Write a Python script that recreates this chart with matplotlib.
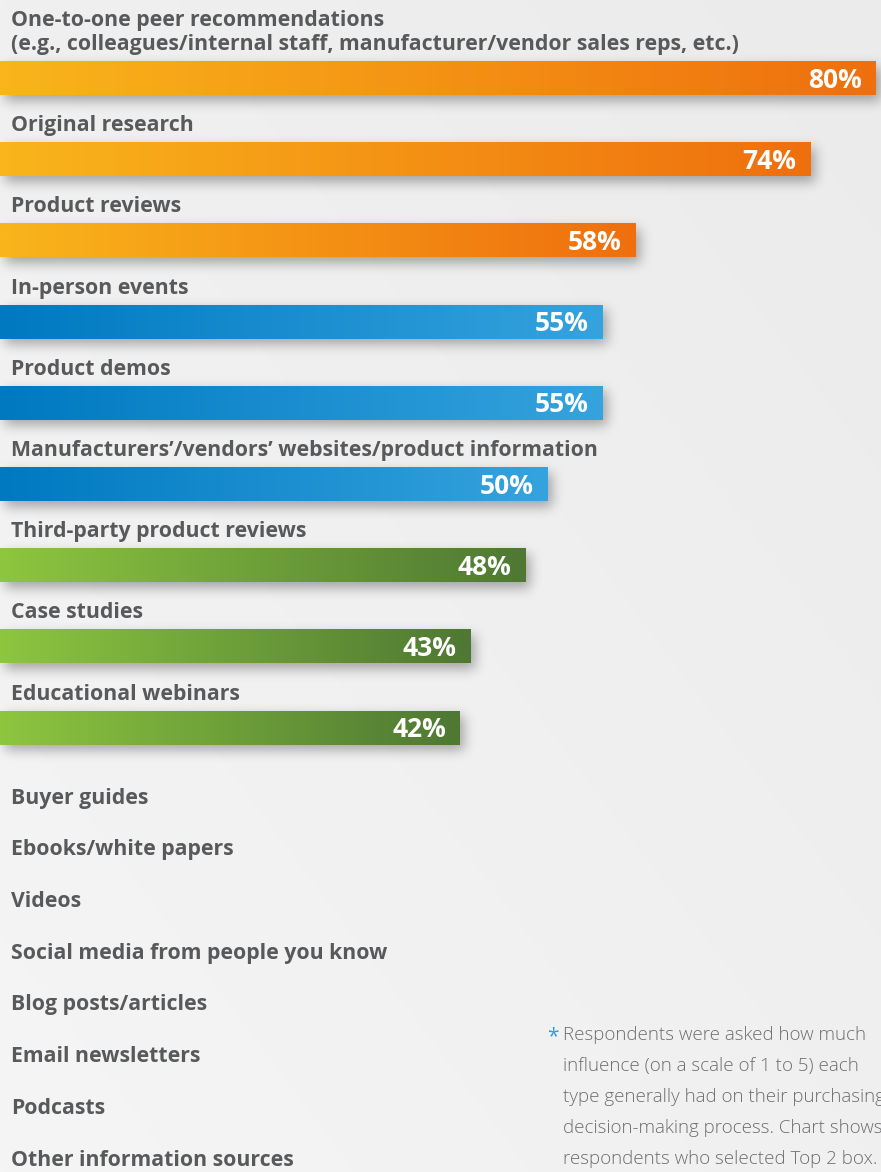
import numpy as np
import matplotlib
matplotlib.use("Agg")
import matplotlib.pyplot as plt
from matplotlib.colors import to_rgb

# ---------------- data ----------------
bar_labels = [
    "One-to-one peer recommendations\n(e.g., colleagues/internal staff, manufacturer/vendor sales reps, etc.)",
    "Original research",
    "Product reviews",
    "In-person events",
    "Product demos",
    "Manufacturers\u2019/vendors\u2019 websites/product information",
    "Third-party product reviews",
    "Case studies",
    "Educational webinars",
]
bar_values = [80, 74, 58, 55, 55, 50, 48, 43, 42]
bar_groups = ["orange", "orange", "orange", "blue", "blue", "blue", "green", "green", "green"]
other_labels = [
    "Buyer guides",
    "Ebooks/white papers",
    "Videos",
    "Social media from people you know",
    "Blog posts/articles",
    "Email newsletters",
    "Podcasts",
    "Other information sources",
]
footnote_lines = [
    "Respondents were asked how much",
    "influence (on a scale of 1 to 5) each",
    "type generally had on their purchasing",
    "decision-making process. Chart shows",
    "respondents who selected Top 2 box.",
]

# ---------------- style ----------------
gradients = {
    "orange": ("#F9B51B", "#EF6F0E"),
    "blue": ("#0079C1", "#35A3DE"),
    "green": ("#8DC63F", "#4E7833"),
}
label_color = "#58595B"
note_color = "#6D6E70"
star_color = "#2E9FDB"

W, H = 881, 1172
PX = 10.95          # pixels per percentage point
ROW = 81.2          # pixels per bar row
Y0 = 78.0           # pixel center of first bar row
BAR_H_PX = 34.0

fam = "Open Sans"
LABEL_FS = 15.35

fig = plt.figure(figsize=(W / 100, H / 100), dpi=100)
ax = fig.add_axes([0, 0, 1, 1])
xmax = W / PX
ytop = -Y0 / ROW
ybot = (H - Y0) / ROW
ax.set_xlim(0, xmax)
ax.set_ylim(ybot, ytop)
ax.axis("off")

# background gradient (diagonal, light gray)
gy, gx = np.mgrid[0:1:200j, 0:1:200j]
t = 0.5 * (gx + (1 - gy))
c0 = np.array(to_rgb("#F5F5F5"))
c1 = np.array(to_rgb("#EBEBEB"))
bg = c0[None, None, :] * (1 - t[..., None]) + c1[None, None, :] * t[..., None]
ax.imshow(bg, extent=(0, xmax, ybot, ytop), aspect="auto", zorder=0, interpolation="bilinear")

# bars (drawn by barh, then filled with gradient)
ypos = np.arange(len(bar_values))
bh = BAR_H_PX / ROW
bars = ax.barh(ypos, bar_values, height=bh, color="none", edgecolor="none", zorder=3)
ax.set_xlim(0, xmax)
ax.set_ylim(ybot, ytop)

# shadow layer computed in pixel space from bar extents
fig.canvas.draw()
mask = np.zeros((H, W))
off_x, off_y = 5, 6
for b in bars:
    (x0, y0), (x1, y1) = ax.transData.transform([(b.get_x(), b.get_y()),
                                                  (b.get_x() + b.get_width(), b.get_y() + b.get_height())])
    r0, r1 = sorted([H - y0, H - y1])
    c_0, c_1 = sorted([x0, x1])
    mask[int(r0) + off_y:int(r1) + off_y, int(c_0) + off_x:int(c_1) + off_x] = 1.0

sigma = 6.0
k = np.arange(-int(3 * sigma), int(3 * sigma) + 1)
kern = np.exp(-0.5 * (k / sigma) ** 2)
kern /= kern.sum()
blur = np.apply_along_axis(lambda r: np.convolve(r, kern, mode="same"), 1, mask)
blur = np.apply_along_axis(lambda c: np.convolve(c, kern, mode="same"), 0, blur)
shadow = np.zeros((H, W, 4))
shadow[..., 3] = 0.32 * blur
ax.imshow(shadow, extent=(0, xmax, ybot, ytop), aspect="auto", zorder=1, interpolation="bilinear")

grad = np.linspace(0, 1, 256)[None, :]
for b, grp, val, lab, i in zip(bars, bar_groups, bar_values, bar_labels, ypos):
    ca = np.array(to_rgb(gradients[grp][0]))
    cb = np.array(to_rgb(gradients[grp][1]))
    img = ca[None, None, :] * (1 - grad[..., None]) + cb[None, None, :] * grad[..., None]
    x = b.get_x(); w = b.get_width(); yb = b.get_y(); hh = b.get_height()
    im = ax.imshow(img, extent=(x, x + w, yb + hh, yb), aspect="auto", zorder=2,
                   interpolation="bilinear")
    im.set_clip_path(b)
    # category label above bar
    ax.text(11 / PX, yb - 6 / ROW, lab, ha="left", va="bottom", fontsize=LABEL_FS,
            fontweight="bold", color=label_color, family=fam, linespacing=1.17, zorder=4)
    # value label inside bar end
    ax.text(x + w - 14 / PX, i + 9.5 / ROW, f"{val}%", ha="right", va="baseline",
            fontsize=19, fontweight="bold", color="white", family=fam, zorder=4)

ax.set_xlim(0, xmax)
ax.set_ylim(ybot, ytop)

# labels without bars
last = ypos[-1]
for j, lab in enumerate(other_labels):
    ax.text(11 / PX, last + (76 + j * 51.7) / ROW, lab, ha="left", va="baseline",
            fontsize=LABEL_FS, fontweight="bold", color=label_color, family=fam, zorder=4)

# footnote
note_x = 563 / PX
base0 = (1040 - Y0) / ROW
line_px = 31.0
ax.text(547 / PX, base0 + 2 / ROW, "*", ha="left", va="baseline", fontsize=15,
        color=star_color, family=fam, zorder=4)
for j, line in enumerate(footnote_lines):
    ax.text(note_x, base0 + j * line_px / ROW, line, ha="left", va="baseline",
            fontsize=13.5, fontweight="light", color=note_color, family=fam, zorder=4)

fig.savefig("out.png", dpi=100)
